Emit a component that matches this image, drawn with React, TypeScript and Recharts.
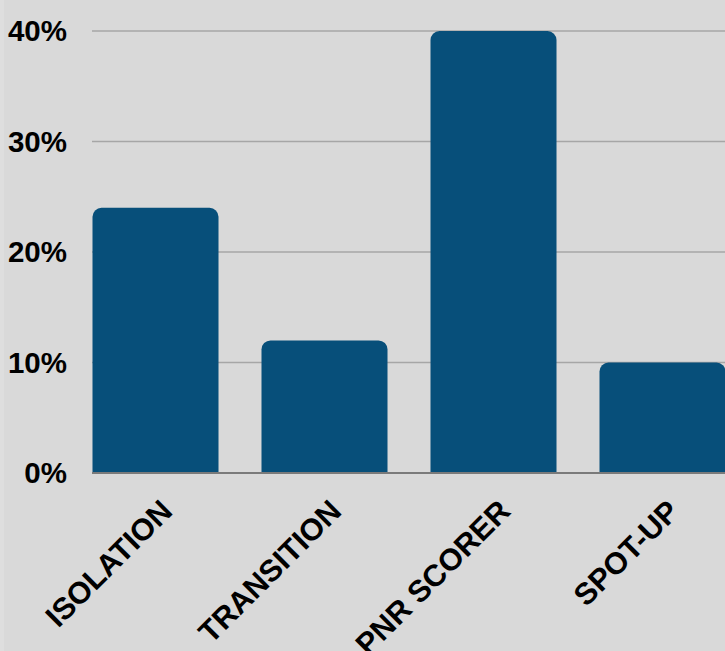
import React from 'react';
import { BarChart, Bar, XAxis, YAxis, CartesianGrid } from 'recharts';

const categories = ['ISOLATION', 'TRANSITION', 'PNR SCORER', 'SPOT-UP'];
const shares = [24, 12, 40, 10];
const yTicks = [0, 10, 20, 30, 40];

const data = categories.map((name, i) => ({ name, value: shares[i] }));

const FONT = "'Liberation Sans', Arial, sans-serif";

const XTick = (props: any) => {
  const { x, y, payload } = props;
  const ax = x + 19;
  const ay = y + 40;
  return (
    <text
      x={ax}
      y={ay}
      transform={`rotate(-45, ${ax}, ${ay})`}
      textAnchor="end"
      fontFamily={FONT}
      fontWeight="bold"
      fontSize={30.5}
      fill="#000"
    >
      {payload.value}
    </text>
  );
};

export default function App() {
  return (
    <div
      style={{
        position: 'fixed',
        left: 0,
        top: 0,
        width: 725,
        height: 651,
        overflow: 'hidden',
        background: '#dedede',
      }}
    >
      <div style={{ position: 'absolute', left: 4, top: 0, width: 721, height: 651, background: '#d9d9d9' }}>
        <BarChart
          width={721}
          height={651}
          data={data}
          margin={{ top: 31, right: 0, left: 0, bottom: 0 }}
        >
          <CartesianGrid vertical={false} stroke="#a6a6a6" strokeWidth={1.3} />
          <XAxis
            dataKey="name"
            padding={{ left: -21.5, right: -21.5 }}
            tickLine={false}
            tickSize={0}
            tickMargin={0}
            interval={0}
            axisLine={{ stroke: '#7a7a7a', strokeWidth: 2 }}
            tick={<XTick />}
            height={178}
          />
          <YAxis
            width={88}
            domain={[0, 40]}
            ticks={yTicks}
            tickFormatter={(v: number) => `${v}%`}
            axisLine={false}
            tickLine={false}
            tickSize={0}
            tickMargin={25}
            tick={{ fill: '#000', fontWeight: 'bold', fontSize: 29.5, fontFamily: FONT }}
          />
          <Bar dataKey="value" fill="#074f7a" barSize={126} radius={[9, 9, 0, 0]} isAnimationActive={false} />
        </BarChart>
      </div>
    </div>
  );
}
